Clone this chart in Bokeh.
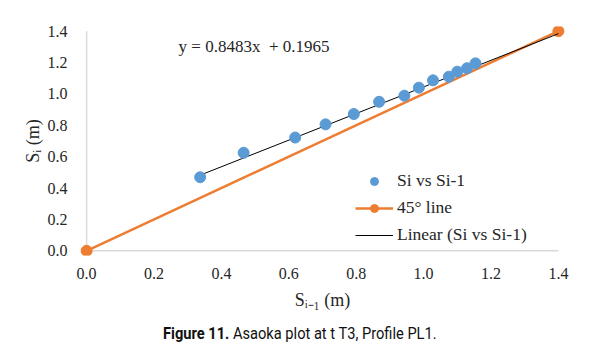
from bokeh.plotting import figure
from bokeh.layouts import column
from bokeh.models import Range1d, FixedTicker, PrintfTickFormatter, Label, Legend, LegendItem, Div
from bokeh.embed import file_html
from bokeh.resources import INLINE

# ---- data ----
si_prev = [0.337, 0.466, 0.619, 0.709, 0.793, 0.868, 0.943, 0.986, 1.028, 1.075, 1.100, 1.129, 1.154]
si = [0.469, 0.625, 0.722, 0.806, 0.872, 0.950, 0.989, 1.040, 1.087, 1.110, 1.142, 1.164, 1.195]
line45_x = [0.0, 1.4]
line45_y = [0.0, 1.4]
slope = 0.8483
intercept = 0.1965
tick_values = [0.0, 0.2, 0.4, 0.6, 0.8, 1.0, 1.2, 1.4]
equation_text = "y = 0.8483x\u00a0 + 0.1965"
legend_labels = ["Si vs Si-1", "45\u00b0 line", "Linear (Si vs Si-1)"]
x_title = "S\u1d62\u208b\u2081 (m)"
y_title = "S\u1d62 (m)"
caption_bold = "Figure 11."
caption_rest = "Asaoka plot at t T3, Profile PL1."

BLUE = "#5B9BD5"
ORANGE = "#ED7D31"
SERIF = "Liberation Serif"
TXT = "#262626"
AXIS_GREY = "#d9d9d9"

p = figure(width=608, height=315,
           x_range=Range1d(-0.03, 1.43), y_range=Range1d(-0.03, 1.43),
           output_backend="svg", toolbar_location=None,
           min_border_left=76, min_border_right=40,
           min_border_top=26, min_border_bottom=60)
p.grid.visible = False
p.outline_line_color = None

for ax in (p.xaxis[0], p.yaxis[0]):
    ax.ticker = FixedTicker(ticks=tick_values)
    ax.formatter = PrintfTickFormatter(format="%.1f")
    ax.axis_line_color = None
    ax.major_tick_line_color = None
    ax.minor_tick_line_color = None
    ax.major_label_text_font = SERIF
    ax.major_label_text_font_size = "16px"
    ax.major_label_text_color = TXT
    ax.axis_label_text_font = SERIF
    ax.axis_label_text_font_size = "18px"
    ax.axis_label_text_font_style = "normal"
    ax.axis_label_text_color = TXT
p.xaxis.axis_label = x_title
p.yaxis.axis_label = y_title
p.xaxis.major_label_standoff = 6
p.yaxis.major_label_standoff = 3
p.xaxis.axis_label_standoff = 8
p.yaxis.axis_label_standoff = 2

# axis lines drawn at the data origin, from the first to the last tick
lo, hi = min(tick_values), max(tick_values)
p.segment(x0=[lo, lo], y0=[lo, lo], x1=[hi, lo], y1=[lo, hi], line_color=AXIS_GREY, line_width=1.5)

# trendline over the fitted span
tx = [min(si_prev), max(line45_x)]
ty = [slope * v + intercept for v in tx]

r45 = p.line(line45_x, line45_y, line_color=ORANGE, line_width=2.5)
r45m = p.scatter(line45_x, line45_y, size=11, fill_color=ORANGE, line_color=ORANGE)
rtr = p.line(tx, ty, line_color="black", line_width=1)
rpts = p.scatter(si_prev, si, size=11, fill_color=BLUE, line_color=BLUE)

legend = Legend(items=[
    LegendItem(label=legend_labels[0], renderers=[rpts]),
    LegendItem(label=legend_labels[1], renderers=[r45, r45m]),
    LegendItem(label=legend_labels[2], renderers=[rtr]),
], location=(279, 10))
legend.border_line_color = None
legend.background_fill_alpha = 0
legend.padding = 4
legend.glyph_width = 38
legend.glyph_height = 20
legend.label_height = 20
legend.spacing = 6
legend.label_standoff = 4
legend.label_text_font = SERIF
legend.label_text_font_size = "17.5px"
legend.label_text_color = TXT
p.add_layout(legend)

# regression equation text (inside the plot area)
p.add_layout(Label(x=(178 - 86) / 337.1, y=(250.5 - 47) / 156.6, text=equation_text,
                   text_font=SERIF, text_font_size="17px", text_color=TXT,
                   text_align="left", text_baseline="middle"))

caption = Div(
    text=('<span style="display:inline-block; transform:scaleX(0.915); transform-origin:left center;">'
          f'<b>{caption_bold}</b> {caption_rest}</span>'),
    width=608, height=24, margin=(9, 0, 0, 0),
    styles={"font-family": "Roboto, sans-serif",
            "font-size": "16px", "color": "#111111", "padding-left": "163px",
            "line-height": "20px", "white-space": "nowrap"},
)

layout = column(p, caption, spacing=0)
open("out.html", "w").write(file_html(layout, INLINE))
